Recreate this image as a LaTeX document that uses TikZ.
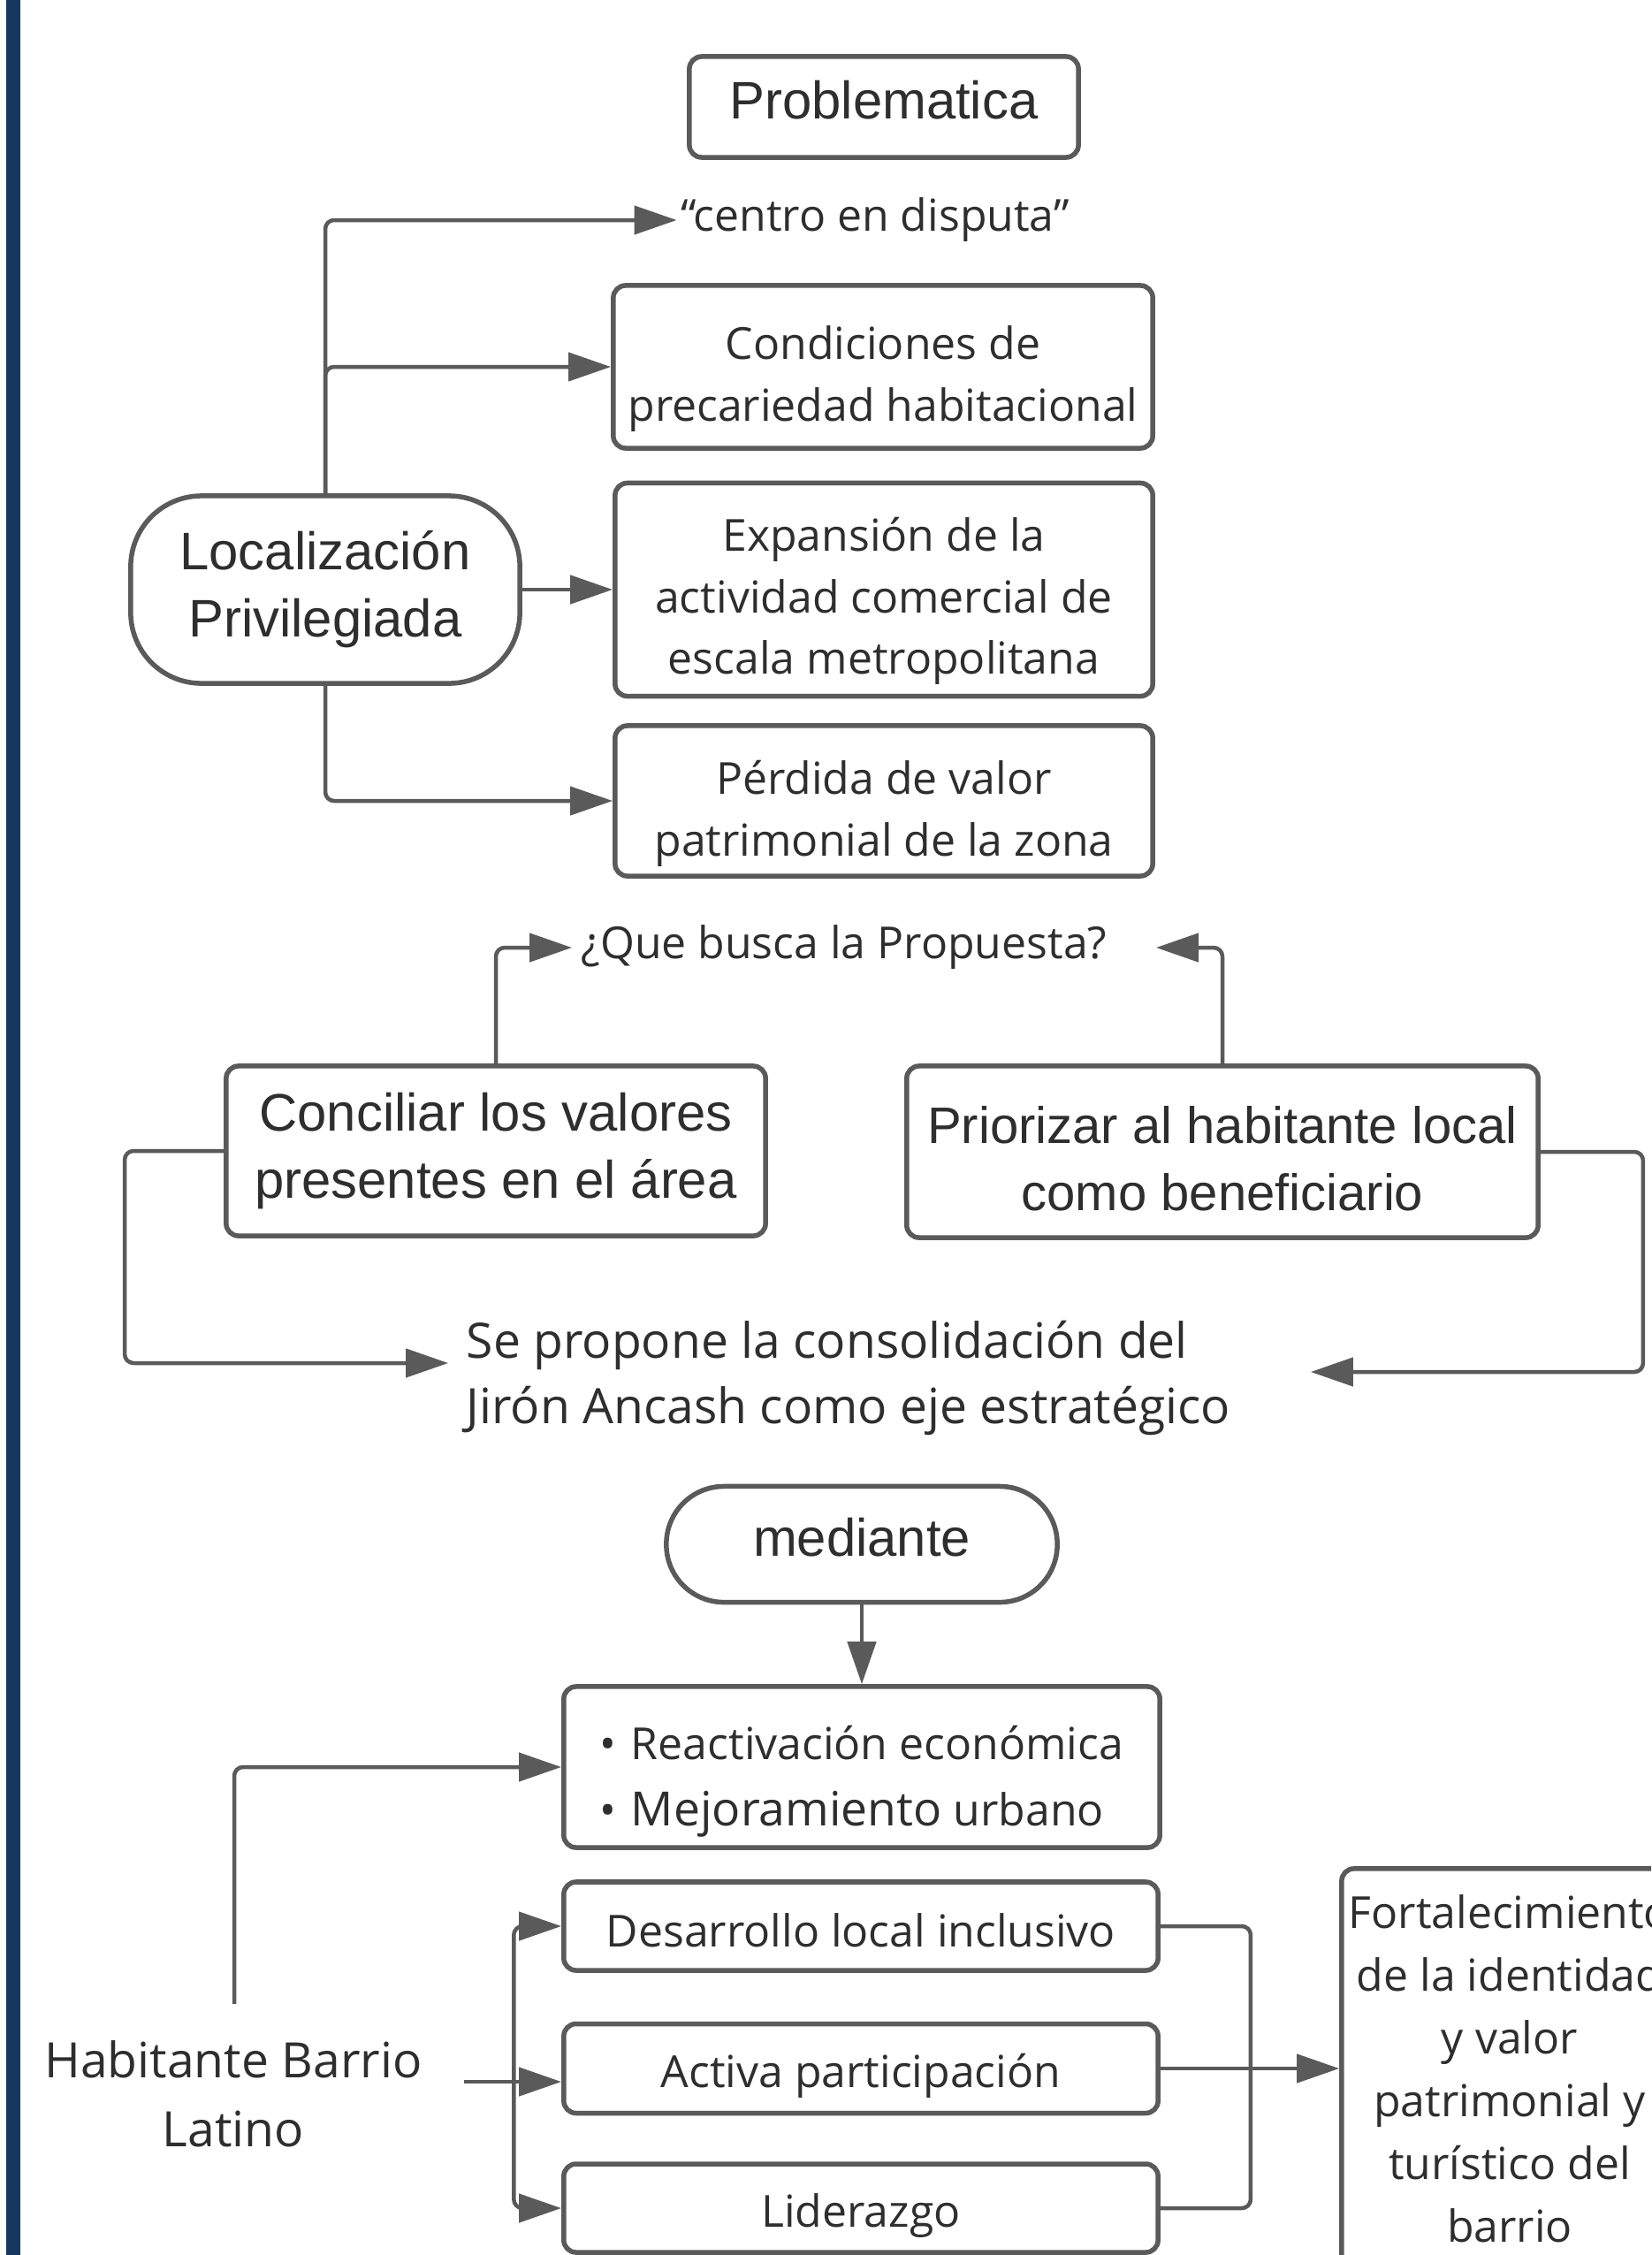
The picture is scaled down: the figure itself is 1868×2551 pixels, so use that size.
\documentclass[tikz,border=0pt]{standalone}
\usepackage{fontspec}
\setmainfont{Open Sans}
\newfontfamily\arialf{Liberation Sans}
\usetikzlibrary{arrows.meta,calc}
\definecolor{bordc}{HTML}{5A5A5A}
\definecolor{txtc}{HTML}{2E2E2E}
\definecolor{navy}{HTML}{18365F}
\newcommand\tup[1]{\rule{0pt}{#1}}
\newcommand\bdn[1]{\rule[-#1]{0pt}{#1}}
\begin{document}
\begin{tikzpicture}[x=0.01cm,y=-0.01cm,
  box/.style={draw=bordc, line width=0.055cm, rounded corners=0.14cm, fill=white, align=center, text=txtc, inner sep=0pt},
  osf/.style={font=\fontsize{14.2}{19.9}\selectfont},
  arf/.style={font=\arialf\fontsize{17}{21.6}\selectfont},
  plain/.style={text=txtc, align=center, inner sep=0pt},
  conn/.style={draw=bordc, line width=0.045cm, rounded corners=0.1cm, -{Triangle[length=0.48cm,width=0.32cm]}},
  link/.style={draw=bordc, line width=0.045cm, rounded corners=0.1cm},
]
\useasboundingbox (0,0) rectangle (1868,2551);
\clip (0,0) rectangle (1868,2551);
\fill[white] (0,0) rectangle (1868,2551);
\fill[navy] (7,0) rectangle (23,2551);

\node[box,arf,minimum width=4.4cm,minimum height=1.14cm] (prob) at (1000,121) {Problematica\bdn{4.6pt}};
\node[plain,osf,inner xsep=0.04cm] (cen) at (990,249) {“centro en disputa”};
\node[box,osf,minimum width=6.1cm,minimum height=1.84cm] (cond) at (999,415) {\tup{18.2pt}Condiciones de\\precariedad habitacional};
\node[box,arf,rounded corners=0.8cm,minimum width=4.4cm,minimum height=2.12cm] (loc) at (368,667) {Localización\\Privilegiada};
\node[box,osf,minimum width=6.08cm,minimum height=2.41cm] (exp) at (1000,667) {\tup{18.2pt}Expansión de la\\actividad comercial de\\escala metropolitana};
\node[box,osf,minimum width=6.08cm,minimum height=1.7cm] (per) at (1000,906) {\tup{19pt}Pérdida de valor\\patrimonial de la zona};
\node[plain,osf,inner xsep=0.1cm] (que) at (955,1072) {¿Que busca la Propuesta?};
\node[box,arf,minimum width=6.1cm,minimum height=1.92cm] (conc) at (561,1302) {Conciliar los valores\\presentes en el área};
\node[box,font=\arialf\fontsize{16.5}{21.6}\selectfont,minimum width=7.14cm,minimum height=1.94cm] (prio) at (1383,1303) {\tup{16.6pt}Priorizar al habitante local\\como beneficiario};
\node[plain,align=left,font=\fontsize{15.7}{21.3}\selectfont,inner xsep=0.2cm] (sp) at (960,1559) {Se propone la consolidación del\\Jirón Ancash como eje estratégico};
\node[box,arf,rounded corners=0.65cm,minimum width=4.42cm,minimum height=1.31cm] (med) at (975,1747) {mediante\bdn{4.6pt}};
\node[box,osf,align=left,minimum width=6.74cm,minimum height=1.82cm] (react) at (975,1999) {\tup{20.2pt}\makebox[0.35cm][l]{•}Reactivación económica\\[1.4pt]\makebox[0.35cm][l]{•}{\fontsize{15.2}{19.9}\selectfont Mejoramiento} urbano};
\node[box,osf,minimum width=6.72cm,minimum height=1.0cm] (des) at (974,2179) {\tup{13.6pt}Desarrollo local inclusivo};
\node[box,osf,minimum width=6.72cm,minimum height=1.01cm] (act) at (974,2340) {\tup{15.4pt}Activa participación};
\node[box,osf,minimum width=6.72cm,minimum height=1.0cm] (lid) at (974,2498) {\tup{15.4pt}Liderazgo};
\node[plain,font=\fontsize{15.7}{22.2}\selectfont,inner xsep=0.47cm] (hab) at (264,2369) {Habitante Barrio\\Latino};
\node[box,font=\fontsize{14.2}{20.2}\selectfont,minimum width=3.8cm,minimum height=4.52cm] (fort) at (1708,2340) {Fortalecimiento\\de la identidad\\y valor\\patrimonial y\\turístico del\\barrio};

\draw[conn] (loc.north) |- (cen.west);
\draw[conn] (loc.north) |- (cond.west);
\draw[conn] (loc.east) -- (exp.west);
\draw[conn] (loc.south) |- (per.west);
\draw[conn] (conc.north) |- (que.west);
\draw[conn] (prio.north) |- ([xshift=0.45cm]que.east);
\draw[conn] (conc.west) -- ++(-112,0) |- ([yshift=0.17cm]sp.west);
\draw[conn] (prio.east) -- ++(116,0) |- ([xshift=0.7cm,yshift=0.07cm]sp.east);
\draw[conn] (med.south) -- (react.north);
\coordinate (habtop) at (265,2267);
\draw[conn] (habtop) |- (react.west);
\coordinate (habE) at ([yshift=0.14cm]hab.east);
\coordinate (hj) at ([xshift=0.56cm]habE);
\draw[conn] (hj) |- (des.west);
\draw[conn] (hj) |- (lid.west);
\draw[conn] (habE) -- (act.west |- habE);
\draw[link] (des.east) -- ++(102,0) |- (lid.east);
\draw[conn] (act.east) -- (fort.west);
\end{tikzpicture}
\end{document}
